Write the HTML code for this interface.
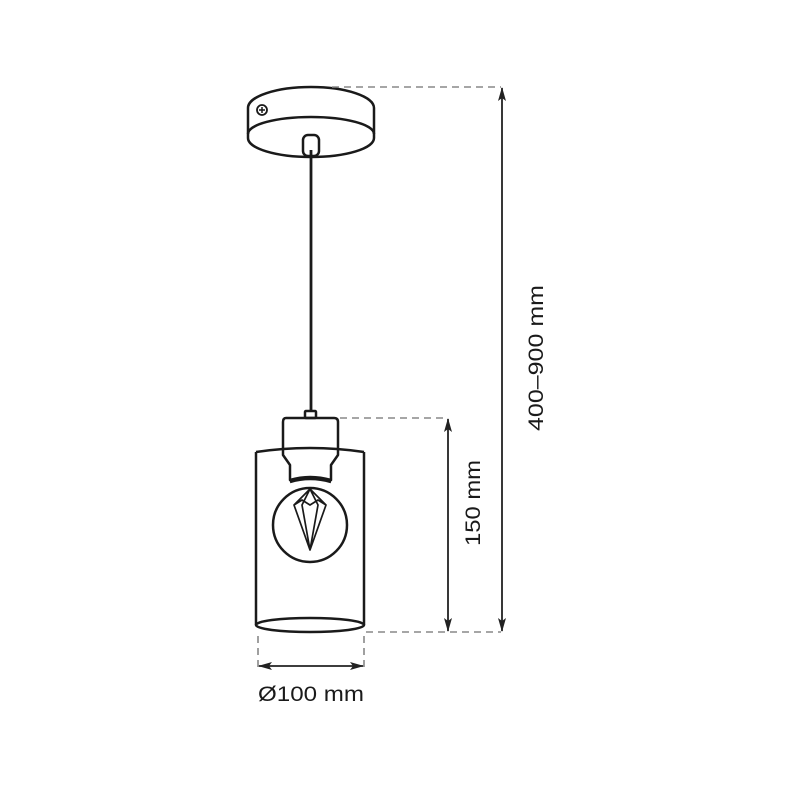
<!DOCTYPE html>
<html><head><style>html,body{margin:0;padding:0;background:#fff}</style></head>
<body>
<svg width="800" height="800" viewBox="0 0 800 800" xmlns="http://www.w3.org/2000/svg">
<defs>
<marker id="a" viewBox="0 0 14 10" refX="13" refY="5" markerWidth="14" markerHeight="10" orient="auto-start-reverse" markerUnits="userSpaceOnUse"><path d="M0,1 L14,5 L0,9 L3,5 Z" fill="#222"/></marker>
</defs>
<g fill="none" stroke="#1a1a1a" stroke-width="2.5" stroke-linejoin="round">
<path d="M248,108 A63,21 0 0 1 374,108 L374,138 A63,19 0 0 1 248,138 Z" fill="#fff"/>
<path d="M248,134 A63,17 0 0 1 374,134"/>
<circle cx="262" cy="110" r="5" stroke-width="1.8"/>
<path d="M259,110 h6 M262,107 v6" stroke-width="1.5"/>
<rect x="303" y="135" width="16" height="21" rx="5" fill="#fff"/>
<line x1="311" y1="150" x2="311" y2="412" stroke-width="2.8"/>
<path d="M256,452 Q310,444 364,452"/>
<line x1="256" y1="452" x2="256" y2="625"/>
<line x1="364" y1="452" x2="364" y2="625"/>
<ellipse cx="310" cy="625" rx="54" ry="7"/>
<rect x="305" y="411" width="11" height="7" rx="1"/>
<path d="M286,418 H334 Q338,418 338,422 V455 L331,465 V480 Q310,474 290,480 V465 L283,455 V422 Q283,418 286,418 Z"/>
<path d="M290,482 Q310,476 331,482"/>
<circle cx="310" cy="525" r="37"/>
<path d="M310,489 L294,505 L310,550 L326,505 Z M310,489 L302,505 L310,550 L318,505 Z M294,505 L302,500 L310,505 L318,500 L326,505" stroke-width="1.7"/>
</g>
<g stroke="#888" stroke-width="1.6" stroke-dasharray="7,5" fill="none">
<line x1="332" y1="87" x2="501" y2="87"/>
<line x1="366" y1="632" x2="501" y2="632"/>
<line x1="340" y1="418" x2="447" y2="418"/>
<line x1="258" y1="636" x2="258" y2="670"/>
<line x1="364" y1="636" x2="364" y2="670"/>
</g>
<g stroke="#222" stroke-width="1.8" fill="none">
<line x1="502" y1="88" x2="502" y2="631" marker-start="url(#a)" marker-end="url(#a)"/>
<line x1="448" y1="419" x2="448" y2="631" marker-start="url(#a)" marker-end="url(#a)"/>
<line x1="259" y1="666" x2="363" y2="666" marker-start="url(#a)" marker-end="url(#a)"/>
</g>
<g font-family="Liberation Sans, sans-serif" font-size="21" fill="#1a1a1a" text-anchor="middle">
<text x="0" y="0" transform="translate(543,358) rotate(-90)" textLength="146" lengthAdjust="spacingAndGlyphs">400–900 mm</text>
<text x="0" y="0" transform="translate(480,503) rotate(-90)" textLength="86" lengthAdjust="spacingAndGlyphs">150 mm</text>
<text x="311" y="701" textLength="106" lengthAdjust="spacingAndGlyphs">Ø100 mm</text>
</g>
</svg>
</body></html>
